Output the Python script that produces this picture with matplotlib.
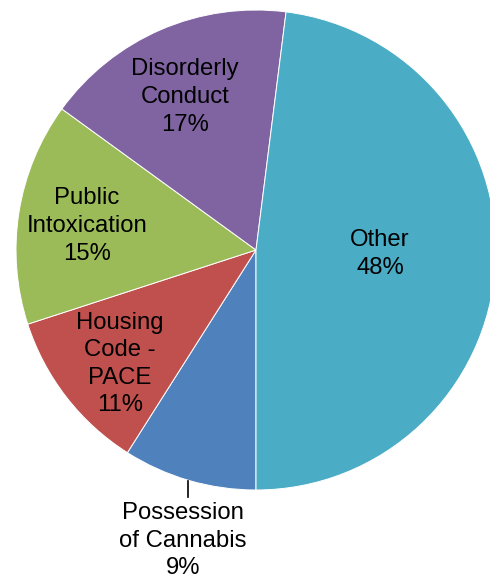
import matplotlib.pyplot as plt

categories = ['Possession\nof Cannabis', 'Housing\nCode -\nPACE', 'Public\nIntoxication',
              'Disorderly\nConduct', 'Other']
shares = [9, 11, 15, 17, 48]
colors = ['#4F81BD', '#C0504D', '#9BBB59', '#8064A2', '#4BACC6']

# label centres in axis units (pie radius = 1)
label_pos = [(-0.304, -1.212), (-0.567, -0.475), (-0.704, 0.10), (-0.296, 0.6375), (0.517, -0.017)]

plt.rcParams['font.family'] = ['Liberation Sans', 'DejaVu Sans']

fig = plt.figure(figsize=(4.9, 5.8), dpi=100)
ax = fig.add_axes([16 / 490, 90 / 580, 480 / 490, 480 / 580])

ax.pie(shares, colors=colors, startangle=-90, counterclock=False, radius=1,
       wedgeprops={'edgecolor': 'white', 'linewidth': 0.7})
ax.set_xlim(-1, 1)
ax.set_ylim(-1, 1)
ax.set_aspect('auto')
ax.axis('off')

for name, val, (x, y) in zip(categories, shares, label_pos):
    ax.text(x, y, f'{name}\n{val}%', ha='center', va='center', fontsize=17.2,
            linespacing=1.33, color='black', clip_on=False)

# leader line for the small slice label
ax.plot([-0.283, -0.283], [-0.9625, -1.029], color='black', linewidth=1.2, clip_on=False)

fig.savefig('out.png', dpi=100)
